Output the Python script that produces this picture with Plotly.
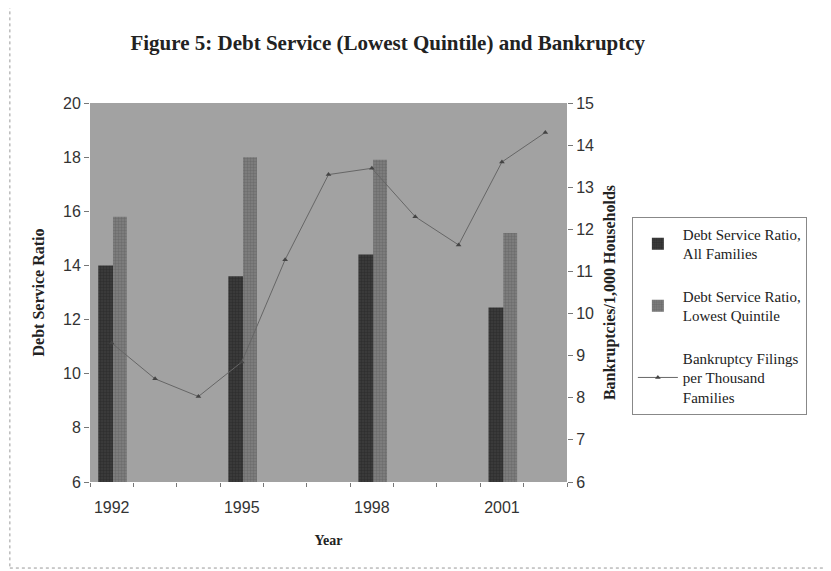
import plotly.graph_objects as go

# survey years (bars) and annual years (line)
bar_years = [1992, 1995, 1998, 2001]
dsr_all_families = [14.0, 13.6, 14.4, 12.45]
dsr_lowest_quintile = [15.8, 18.0, 17.9, 15.2]

line_years = [1992, 1993, 1994, 1995, 1996, 1997, 1998, 1999, 2000, 2001, 2002]
bankruptcy_per_1000 = [9.3, 8.45, 8.03, 8.85, 11.28, 13.3, 13.45, 12.3, 11.63, 13.6, 14.3]

year_labels = ["1992", "1995", "1998", "2001"]

serif = "Liberation Serif, Times New Roman, serif"
sans = "Liberation Sans, Arial, sans-serif"

fig = go.Figure()

fig.add_trace(go.Bar(
    x=bar_years, y=dsr_all_families,
    name="Debt Service Ratio,<br>All Families",
    width=0.36, offset=-0.31, legendgroup="a",
    marker=dict(color="#3a3a3a", line=dict(width=0),
                pattern=dict(shape="+", size=3, solidity=0.3, fgcolor="#1a1a1a")),
))
fig.add_trace(go.Bar(
    x=bar_years, y=dsr_lowest_quintile,
    name="Debt Service Ratio,<br>Lowest Quintile",
    width=0.32, offset=0.03, legendgroup="b",
    marker=dict(color="#7c7c7c", line=dict(width=0),
                pattern=dict(shape="+", size=3, solidity=0.3, fgcolor="#555555")),
))
fig.add_trace(go.Scatter(
    x=line_years, y=bankruptcy_per_1000,
    name="Bankruptcy Filings<br>per Thousand<br>Families",
    yaxis="y2", mode="lines+markers", legendgroup="c",
    line=dict(color="#666666", width=1),
    marker=dict(symbol="triangle-up", size=5, color="#444444"),
))

fig.update_layout(
    width=831, height=571,
    margin=dict(l=82, r=272, t=95, b=97, autoexpand=False),
    paper_bgcolor="white",
    plot_bgcolor="#a2a2a2",
    barmode="overlay",
    title=dict(text="<b>Figure 5: Debt Service (Lowest Quintile) and Bankruptcy</b>",
               x=0.457, xref="container", xanchor="center",
               y=0.94, yref="container", yanchor="middle",
               font=dict(family=serif, size=21, color="#222222")),
    showlegend=True,
    legend=dict(x=1.136, y=0.70, xanchor="left", yanchor="top",
                bgcolor="white", bordercolor="#888888", borderwidth=1,
                font=dict(family=serif, size=15, color="#222222"),
                itemwidth=40, tracegroupgap=20, traceorder="grouped"),
    xaxis=dict(
        range=[1991.5, 2002.5], automargin=False,
        tickvals=bar_years, ticktext=year_labels, ticks="",
        ticklabelstandoff=14,
        tickfont=dict(family=sans, size=16, color="#333333"),
        showgrid=False, zeroline=False, showline=False,
        minor=dict(tick0=1991.5, dtick=1, ticks="outside", ticklen=4, tickcolor="#777777"),
        title=dict(text="<b>Year</b>", font=dict(family=serif, size=14, color="#222222"),
                   standoff=20),
    ),
    yaxis=dict(
        range=[6, 20], dtick=2, ticks="outside", ticklen=5, tickcolor="#777777",
        automargin=False,
        tickfont=dict(family=sans, size=16, color="#333333"),
        showgrid=False, zeroline=False, showline=False,
        title=dict(text="<b>Debt Service Ratio</b>", font=dict(family=serif, size=16, color="#222222"),
                   standoff=14),
    ),
    yaxis2=dict(
        overlaying="y", side="right", automargin=False,
        range=[6, 15], dtick=1, ticks="outside", ticklen=5, tickcolor="#777777",
        tickfont=dict(family=sans, size=16, color="#333333"),
        showgrid=False, zeroline=False, showline=False,
        title=dict(text="<b>Bankruptcies/1,000 Households</b>",
                   font=dict(family=serif, size=16, color="#222222"), standoff=10),
    ),
)

# outer chart frame
fig.add_shape(type="rect", xref="paper", yref="paper",
              x0=-0.168, x1=1.55, y0=-0.227, y1=1.266,
              line=dict(color="#999999", width=1, dash="dot"), layer="below")

fig.write_html("out.html")
